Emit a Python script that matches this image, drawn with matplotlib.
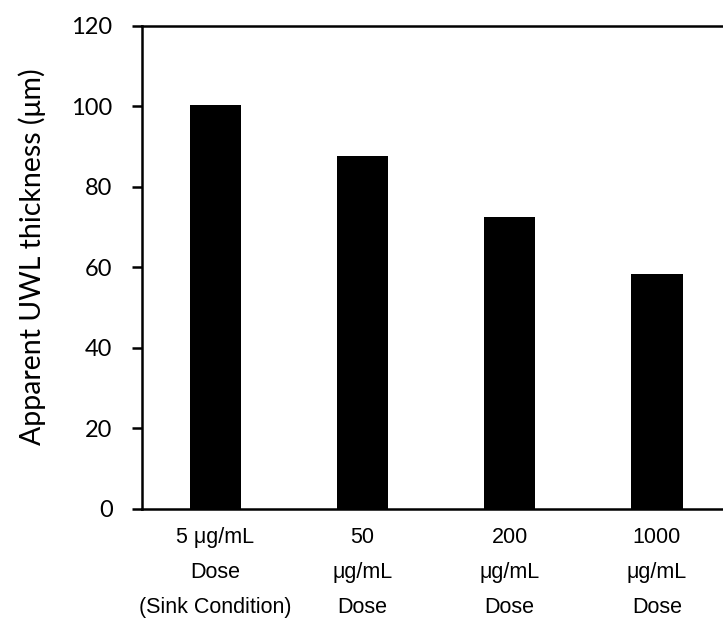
import matplotlib
matplotlib.use('Agg')
from matplotlib import pyplot as plt

doses = ['5 \u03bcg/mL\nDose\n(Sink Condition)', '50\n\u03bcg/mL\nDose', '200\n\u03bcg/mL\nDose', '1000\n\u03bcg/mL\nDose']
thickness = [100.2, 87.6, 72.4, 58.4]
yticks = [0, 20, 40, 60, 80, 100, 120]

fig = plt.figure(figsize=(7.23, 6.21), dpi=100)
ax = fig.add_axes([0.196, 0.1808, 0.8144, 0.7778])

x = list(range(len(doses)))
ax.bar(x, thickness, width=0.35, color='black')
ax.set_xlim(-0.5, 3.5)
ax.set_ylim(0, 120)

for side in ['left', 'top', 'bottom', 'right']:
    ax.spines[side].set_linewidth(1.8)
ax.spines['right'].set_visible(False)
ax.set_yticks(yticks)
ax.set_yticklabels([str(t) for t in yticks], family='Lato', fontsize=17)
ax.tick_params(axis='y', direction='out', length=7, width=1.8, pad=14)
ax.set_xticks([])

# multi-line category labels under each bar
for i, lab in enumerate(doses):
    for j, line in enumerate(lab.split('\n')):
        ax.annotate(line, xy=(i, 0), xycoords=('data', 'axes fraction'),
                    xytext=(0, -20.5 - 25.3 * j), textcoords='offset points',
                    ha='center', va='center', family='Liberation Sans', fontsize=15.5)

fig.text(32 / 723, 0.587, 'Apparent UWL thickness (\u03bcm)', rotation=90,
         ha='center', va='center', family='Lato', fontsize=20.5)

fig.savefig('out.png', dpi=100)
